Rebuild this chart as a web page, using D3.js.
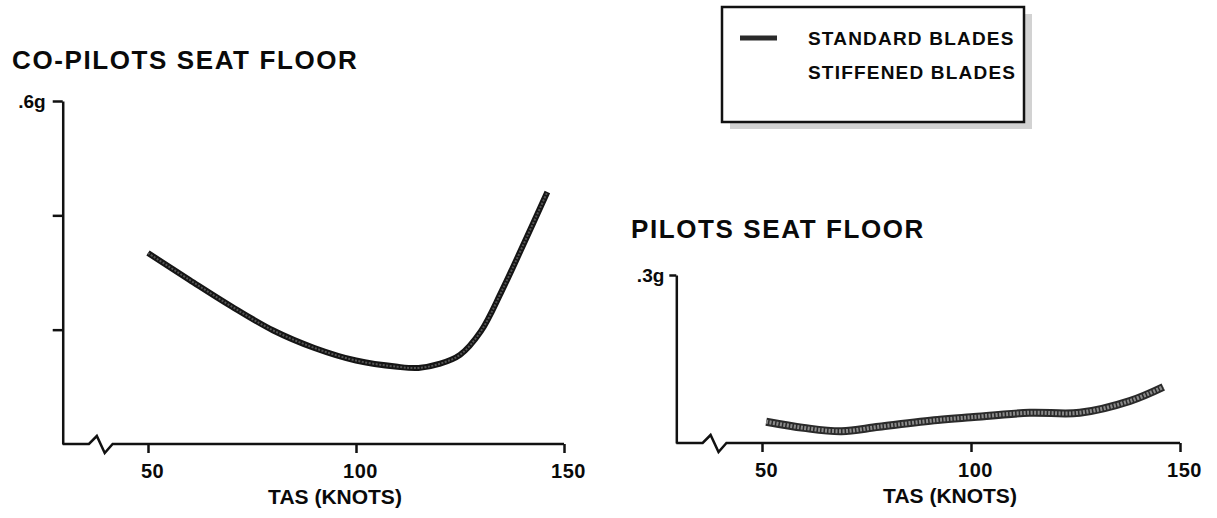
<!DOCTYPE html>
<html>
<head>
<meta charset="utf-8">
<script src="https://cdn.jsdelivr.net/npm/d3@7"></script>
<style>
  body { margin: 0; background: #fff; }
  svg text { font-family: "Liberation Sans", Arial, sans-serif; font-weight: bold; fill: #0a0a0a; }
</style>
</head>
<body>
<div id="chart"></div>
<script>
////////////////////////////////////////////////////////////////////////
// Data (TAS in knots, vibration in g)

let xTicks = [50, 100, 150];
let axisStart = 29.5;                    // origin of the broken speed axis
let breakAt = [35.8, 37.7, 39.6, 41.5];  // zig-zag of the axis break

let coPilotSpeeds = [50, 60, 70, 80, 90, 100, 110, 115, 120, 125, 130, 135, 140, 146];
let coPilotG = [0.334, 0.287, 0.241, 0.199, 0.168, 0.146, 0.135, 0.133, 0.140, 0.156, 0.197, 0.267, 0.345, 0.441];
let coPilotTicks = [0.2, 0.4, 0.6];

let pilotSpeeds = [51, 60, 69, 78, 92, 100, 114, 126, 138, 146];
let pilotG = [0.038, 0.027, 0.021, 0.029, 0.041, 0.046, 0.054, 0.054, 0.075, 0.100];
let pilotTicks = [0.3];

let legendLabels = ["STANDARD BLADES", "STIFFENED BLADES"];

////////////////////////////////////////////////////////////////////////
// SVG setup

let width = 1217, height = 518;

let svg = d3.select("#chart")
  .append("svg")
  .attr("width", width).attr("height", height);

let panels = [
  { title: "CO-PILOTS SEAT FLOOR", titleX: 12, titleY: 69, titleSize: 26,
    speeds: coPilotSpeeds, g: coPilotG, ticks: coPilotTicks,
    xRange: [148, 564], yRange: [444, 101], yTick: 10, yPad: 7,
    lineWidth: 6, lineColor: "#151515", coreColor: "#555", coreWidth: 2 },
  { title: "PILOTS SEAT FLOOR", titleX: 631, titleY: 238, titleSize: 26,
    speeds: pilotSpeeds, g: pilotG, ticks: pilotTicks,
    xRange: [762, 1180], yRange: [443, 275], yTick: 7, yPad: 5,
    lineWidth: 8, lineColor: "#2a2a2a", coreColor: "#8a8a8a", coreWidth: 4 }
];

////////////////////////////////////////////////////////////////////////
// Draw each panel

panels.forEach(p => {
  let yMax = d3.max(p.ticks);
  let x = d3.scaleLinear().domain([50, 150]).range(p.xRange);
  let y = d3.scaleLinear().domain([0, yMax]).range(p.yRange);
  let g = svg.append("g");

  // title
  g.append("text")
    .attr("x", p.titleX).attr("y", p.titleY)
    .style("font-size", p.titleSize + "px")
    .style("letter-spacing", "1.6px")
    .text(p.title);

  // y axis with only the top value labelled
  let yAxis = d3.axisLeft(y)
    .tickValues(p.ticks)
    .tickSize(p.yTick).tickSizeOuter(0)
    .tickPadding(p.yPad)
    .tickFormat(d => d === yMax ? d3.format(".1f")(d).replace(/^0/, "") + "g" : "");

  g.append("g")
    .attr("class", "yaxis")
    .attr("transform", `translate(${x(axisStart)},0)`)
    .call(yAxis)
    .call(a => a.selectAll("text").style("font-size", "19px").attr("dy", "0.35em"))
    .call(a => a.selectAll("line, path").style("stroke", "#111").style("stroke-width", 2.5));

  // x axis, drawn without its domain line
  let xAxis = d3.axisBottom(x)
    .tickValues(xTicks)
    .tickSize(9).tickSizeOuter(0)
    .tickPadding(11);

  g.append("g")
    .attr("transform", `translate(0,${y(0)})`)
    .call(xAxis)
    .call(a => a.select(".domain").remove())
    .call(a => a.selectAll("text").style("font-size", "20px").style("letter-spacing", "0.5px").attr("dx", "4px"))
    .call(a => a.selectAll("line").style("stroke", "#111").style("stroke-width", 2.5));

  // baseline with the axis break
  let base = [[axisStart, 0], [breakAt[0], 0], [breakAt[1], -8], [breakAt[2], 9], [breakAt[3], 0], [150, 0]];
  g.append("path")
    .attr("d", d3.line().x(d => x(d[0])).y(d => y(0) + d[1])(base))
    .style("fill", "none")
    .style("stroke", "#111")
    .style("stroke-width", 2.5)
    .style("stroke-linejoin", "miter");

  g.append("text")
    .attr("x", d3.mean(p.xRange) - 21).attr("y", y(0) + 60)
    .attr("text-anchor", "middle")
    .style("font-size", "21px")
    .text("TAS (KNOTS)");

  // the measured curve
  let pts = p.speeds.map((s, i) => [x(s), y(p.g[i])]);
  let line = d3.line().curve(d3.curveCatmullRom.alpha(0.5));

  g.append("path")
    .attr("d", line(pts))
    .style("fill", "none")
    .style("stroke", p.lineColor)
    .style("stroke-width", p.lineWidth);

  g.append("path")
    .attr("d", line(pts))
    .style("fill", "none")
    .style("stroke", p.coreColor)
    .style("stroke-width", p.coreWidth)
    .style("stroke-dasharray", "2,1.5");
});

////////////////////////////////////////////////////////////////////////
// Legend

let legend = svg.append("g").attr("transform", "translate(722,7)");

legend.append("rect")
  .attr("x", 8).attr("y", 7)
  .attr("width", 302).attr("height", 115)
  .style("fill", "#d2d2d2");

legend.append("rect")
  .attr("width", 302).attr("height", 115)
  .style("fill", "#fff")
  .style("stroke", "#111")
  .style("stroke-width", 2.5);

legend.selectAll(".lbl")
  .data(legendLabels)
  .enter().append("text")
  .attr("class", "lbl")
  .attr("x", 86)
  .attr("y", (d, i) => 31 + i * 34)
  .attr("dy", "0.35em")
  .style("font-size", "19px")
  .style("letter-spacing", "1.2px")
  .text(d => d);

legend.append("line")
  .attr("x1", 18).attr("x2", 55)
  .attr("y1", 31).attr("y2", 31)
  .style("stroke", "#2a2a2a")
  .style("stroke-width", 5);
</script>
</body>
</html>
